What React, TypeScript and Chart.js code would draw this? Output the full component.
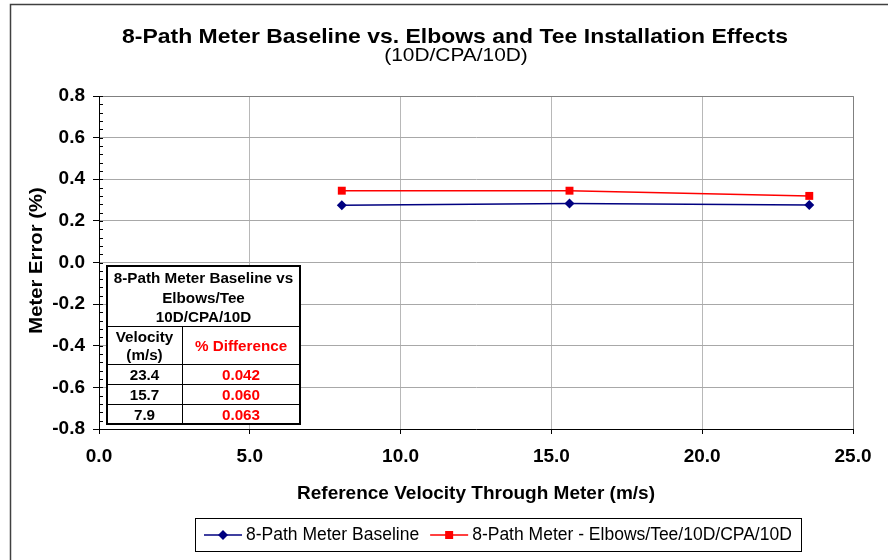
import React, { useEffect, useRef } from "react";
import { Chart, registerables } from "chart.js";

Chart.register(...registerables);

const chartTitle = "8-Path Meter Baseline vs. Elbows and Tee Installation Effects";
const chartSubtitle = "(10D/CPA/10D)";
const xAxisTitle = "Reference Velocity Through Meter (m/s)";
const yAxisTitle = "Meter Error (%)";
const seriesNames = ["8-Path Meter Baseline", "8-Path Meter - Elbows/Tee/10D/CPA/10D"];
const seriesColors = ["#000080", "#ff0000"];
const velocities = [8.05, 15.6, 23.55];
const baselineError = [0.275, 0.283, 0.276];
const elbowsTeeError = [0.345, 0.345, 0.32];
const xRange = [0, 25, 5];
const yRange = [-0.8, 0.8, 0.2];
const tableTitleLines = ["8-Path Meter Baseline vs", "Elbows/Tee", "10D/CPA/10D"];
const tableVelocityHeader = ["Velocity", "(m/s)"];
const tableDiffHeader = "% Difference";
const tableVelocities = ["23.4", "15.7", "7.9"];
const tableDifferences = ["0.042", "0.060", "0.063"];

const FONT = "'Liberation Sans', Arial, Helvetica, sans-serif";

function drawText(
  ctx: CanvasRenderingContext2D,
  text: string,
  x: number,
  y: number,
  font: string,
  hscale: number,
  align: CanvasTextAlign = "center",
  baseline: CanvasTextBaseline = "alphabetic"
) {
  ctx.save();
  ctx.font = font;
  ctx.textAlign = align;
  ctx.textBaseline = baseline;
  ctx.translate(x, y);
  ctx.scale(hscale, 1);
  ctx.fillText(text, 0, 0);
  ctx.restore();
}

const decorPlugin = {
  id: "decor",
  beforeDraw(chart: any) {
    const ctx = chart.ctx;
    ctx.save();
    ctx.fillStyle = "#ffffff";
    ctx.fillRect(0, 0, chart.width, chart.height);
    ctx.restore();
  },
  afterDraw(chart: any) {
    const ctx: CanvasRenderingContext2D = chart.ctx;
    const area = chart.chartArea;
    const ys = chart.scales.y;
    ctx.save();

    // outer frame
    ctx.strokeStyle = "#404040";
    ctx.lineWidth = 1.5;
    ctx.strokeRect(10.5, 4.5, 1000, 1000);

    // plot border top/right
    ctx.strokeStyle = "#808080";
    ctx.lineWidth = 1;
    ctx.beginPath();
    ctx.moveTo(area.left, Math.round(area.top) + 0.5);
    ctx.lineTo(Math.round(area.right) + 0.5, Math.round(area.top) + 0.5);
    ctx.lineTo(Math.round(area.right) + 0.5, area.bottom);
    ctx.stroke();

    // y ticks inside (major + minor)
    ctx.strokeStyle = "#000";
    ctx.beginPath();
    const step = yRange[2] / 5;
    for (let i = 0; i <= Math.round((yRange[1] - yRange[0]) / step); i++) {
      const v = yRange[0] + i * step;
      const py = Math.round(ys.getPixelForValue(v)) + 0.5;
      ctx.moveTo(area.left, py);
      ctx.lineTo(area.left + 4, py);
    }
    ctx.stroke();

    // titles
    ctx.fillStyle = "#000";
    drawText(ctx, chartTitle, 455, 43, `bold 21px ${FONT}`, 1.094);
    drawText(ctx, chartSubtitle, 456, 61, `19px ${FONT}`, 1.1);
    drawText(ctx, xAxisTitle, (area.left + area.right) / 2, 499, `bold 19px ${FONT}`, 1.0);
    ctx.save();
    ctx.translate(42, (area.top + area.bottom) / 2 - 2);
    ctx.rotate(-Math.PI / 2);
    drawText(ctx, yAxisTitle, 0, 0, `bold 19px ${FONT}`, 1.066);
    ctx.restore();

    // table
    const tL = 107, tR = 300, tT = 266, tB = 424;
    const colX = 182, headB = 326, hdrB = 364;
    const rowH = 20;
    ctx.fillStyle = "#fff";
    ctx.fillRect(tL, tT, tR - tL, tB - tT);
    ctx.strokeStyle = "#000";
    ctx.lineWidth = 1;
    ctx.beginPath();
    ctx.moveTo(tL, headB + 0.5); ctx.lineTo(tR, headB + 0.5);
    ctx.moveTo(colX + 0.5, headB); ctx.lineTo(colX + 0.5, tB);
    ctx.moveTo(tL, hdrB + 0.5); ctx.lineTo(tR, hdrB + 0.5);
    for (let i = 1; i < tableVelocities.length; i++) {
      ctx.moveTo(tL, hdrB + i * rowH + 0.5); ctx.lineTo(tR, hdrB + i * rowH + 0.5);
    }
    ctx.stroke();
    ctx.lineWidth = 2;
    ctx.strokeRect(tL, tT, tR - tL, tB - tT);

    const tf = `bold 14.5px ${FONT}`;
    const th = 1.05;
    ctx.fillStyle = "#000";
    const cx = (tL + tR) / 2;
    tableTitleLines.forEach((s, i) => drawText(ctx, s, cx, 283 + i * 19.5, tf, th));
    const c1 = (tL + colX) / 2, c2 = (colX + tR) / 2;
    drawText(ctx, tableVelocityHeader[0], c1, 342, tf, th);
    drawText(ctx, tableVelocityHeader[1], c1, 360, tf, th);
    tableVelocities.forEach((s, i) => drawText(ctx, s, c1, 380 + i * rowH, tf, th));
    ctx.fillStyle = "#ff0000";
    drawText(ctx, tableDiffHeader, c2, 351, tf, th);
    tableDifferences.forEach((s, i) => drawText(ctx, s, c2, 380 + i * rowH, tf, th));

    // legend
    const lf = `17.5px ${FONT}`;
    ctx.font = lf;
    const w0 = ctx.measureText(seriesNames[0]).width;
    const w1 = ctx.measureText(seriesNames[1]).width;
    const lineLen = 38, gapT = 4, gapItem = 11, padX = 9;
    const total = padX + lineLen + gapT + w0 + gapItem + lineLen + gapT + w1 + padX;
    const bx = Math.round(498 - total / 2);
    const by = 518, bh = 33;
    ctx.strokeStyle = "#000";
    ctx.lineWidth = 1;
    ctx.strokeRect(bx + 0.5, by + 0.5, Math.round(total), bh);
    const ly = by + bh / 2 + 0.5;
    let x = bx + padX;
    const items = [
      { name: seriesNames[0], w: w0, color: seriesColors[0], shape: "diamond" },
      { name: seriesNames[1], w: w1, color: seriesColors[1], shape: "square" },
    ];
    items.forEach((it) => {
      ctx.strokeStyle = it.color;
      ctx.lineWidth = 1.5;
      ctx.beginPath();
      ctx.moveTo(x, ly);
      ctx.lineTo(x + lineLen, ly);
      ctx.stroke();
      ctx.fillStyle = it.color;
      const mx = x + lineLen / 2;
      ctx.beginPath();
      if (it.shape === "diamond") {
        ctx.moveTo(mx - 5, ly); ctx.lineTo(mx, ly - 5); ctx.lineTo(mx + 5, ly); ctx.lineTo(mx, ly + 5);
        ctx.closePath();
      } else {
        ctx.rect(mx - 4, ly - 4, 8, 8);
      }
      ctx.fill();
      x += lineLen + gapT;
      ctx.fillStyle = "#000";
      drawText(ctx, it.name, x, ly, lf, 1.0, "left", "middle");
      x += it.w + gapItem;
    });

    ctx.restore();
  },
};

export default function App() {
  const ref = useRef<HTMLCanvasElement | null>(null);
  useEffect(() => {
    if (!ref.current) return;
    const chart = new Chart(ref.current, {
      type: "line",
      data: {
        datasets: [
          {
            label: seriesNames[0],
            data: velocities.map((v, i) => ({ x: v, y: baselineError[i] })),
            borderColor: seriesColors[0],
            backgroundColor: seriesColors[0],
            borderWidth: 1.5,
            pointStyle: "rectRot",
            pointRadius: 5,
            pointHoverRadius: 5,
            pointBorderWidth: 0,
          },
          {
            label: seriesNames[1],
            data: velocities.map((v, i) => ({ x: v, y: elbowsTeeError[i] })),
            borderColor: seriesColors[1],
            backgroundColor: seriesColors[1],
            borderWidth: 1.5,
            pointStyle: "rect",
            pointRadius: 5.6,
            pointHoverRadius: 5.6,
            pointBorderWidth: 0,
          },
        ],
      },
      options: {
        responsive: false,
        animation: false,
        layout: { padding: { left: 0, top: 96, right: 35, bottom: 0 } },
        plugins: {
          legend: { display: false },
          title: { display: false },
          tooltip: { enabled: false },
        },
        scales: {
          x: {
            type: "linear",
            min: xRange[0],
            max: xRange[1],
            afterFit: (s: any) => { s.height = 131; },
            ticks: {
              stepSize: xRange[2],
              callback: (v: any) => Number(v).toFixed(1),
              font: { family: FONT, size: 19, weight: "bold" },
              color: "#000",
              padding: 11,
              maxRotation: 0,
            },
            grid: { color: "#b8b8b8", tickColor: "#000", tickLength: 5, lineWidth: 1 },
            border: { color: "#000", width: 1 },
          },
          y: {
            type: "linear",
            min: yRange[0],
            max: yRange[1],
            afterFit: (s: any) => { s.width = 99; },
            ticks: {
              stepSize: yRange[2],
              callback: (v: any) => Number(v).toFixed(1),
              font: { family: FONT, size: 19, weight: "bold" },
              color: "#000",
              padding: 8,
            },
            grid: { color: "#a8a8a8", tickColor: "#000", tickLength: 6, lineWidth: 1 },
            border: { color: "#000", width: 1 },
          },
        },
      },
      plugins: [decorPlugin],
    } as any);
    return () => chart.destroy();
  }, []);
  return (
    <div style={{ position: "fixed", left: 0, top: 0, width: 888, height: 560, background: "#fff" }}>
      <canvas ref={ref} width={888} height={560} style={{ display: "block" }} />
    </div>
  );
}
